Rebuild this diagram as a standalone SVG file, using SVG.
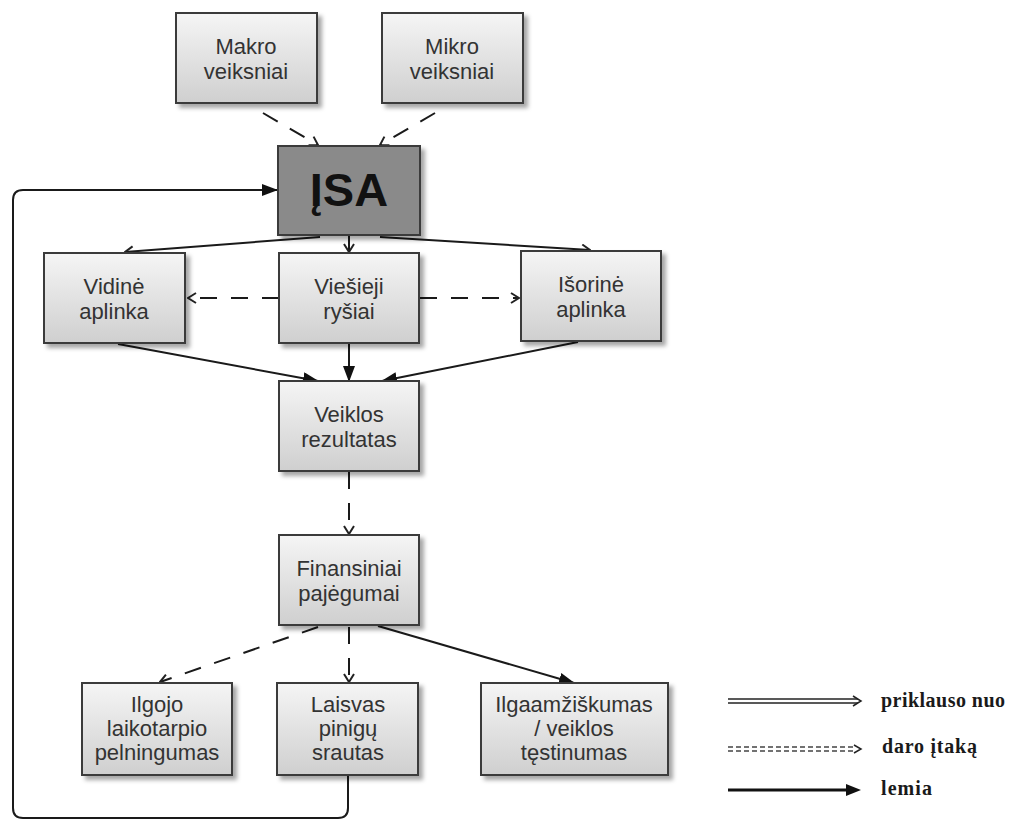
<svg xmlns="http://www.w3.org/2000/svg" width="1012" height="820" viewBox="0 0 1012 820">
<defs>
<linearGradient id="g" x1="0" y1="0" x2="0" y2="1">
<stop offset="0" stop-color="#f5f5f5"/><stop offset="1" stop-color="#cfcfcf"/>
</linearGradient>
<filter id="sh" x="-10%" y="-10%" width="130%" height="130%">
<feDropShadow dx="4" dy="4" stdDeviation="2" flood-color="#000" flood-opacity="0.35"/>
</filter>
<marker id="open" viewBox="0 0 12 12" refX="11" refY="6" markerWidth="12" markerHeight="12" markerUnits="userSpaceOnUse" orient="auto">
<path d="M3,1 L11,6 L3,11" fill="none" stroke="#222" stroke-width="2"/>
</marker>
<marker id="fill" viewBox="0 0 16 12" refX="15" refY="6" markerWidth="16" markerHeight="12" markerUnits="userSpaceOnUse" orient="auto">
<path d="M0,0 L16,6 L0,12 Z" fill="#111"/>
</marker>
</defs>
<style>
.box{fill:url(#g);stroke:#3a3a3a;stroke-width:2;filter:url(#sh)}
.t{font-family:"Liberation Sans",Arial,sans-serif;font-size:22px;fill:#333;text-anchor:middle}
.c{fill:none;stroke:#1a1a1a;stroke-width:2}
.d{stroke-dasharray:17 14}
.lg{font-family:"Liberation Serif","Times New Roman",serif;font-size:20px;font-weight:bold;fill:#1a1a1a}
</style>
<rect width="1012" height="820" fill="#fff"/>
<g id="connectors">
<line class="c d" x1="263" y1="113" x2="318" y2="145" marker-end="url(#open)"/>
<line class="c d" x1="435" y1="113" x2="380" y2="145" marker-end="url(#open)"/>
<line class="c" x1="349" y1="236" x2="349" y2="252" marker-end="url(#open)"/>
<line class="c" x1="320" y1="237" x2="125" y2="252" marker-end="url(#open)"/>
<line class="c" x1="380" y1="237" x2="590" y2="250" marker-end="url(#open)"/>
<line class="c d" x1="279" y1="298" x2="188" y2="298" marker-end="url(#open)"/>
<line class="c d" x1="420" y1="298" x2="519" y2="298" marker-end="url(#open)"/>
<line class="c" x1="118" y1="344" x2="318" y2="381" marker-end="url(#fill)"/>
<line class="c" x1="349" y1="344" x2="349" y2="381" marker-end="url(#fill)"/>
<line class="c" x1="578" y1="342" x2="382" y2="381" marker-end="url(#fill)"/>
<line class="c d" x1="349" y1="472" x2="349" y2="534" marker-end="url(#open)"/>
<line class="c d" x1="318" y1="627" x2="160" y2="682" marker-end="url(#open)"/>
<line class="c d" x1="349" y1="627" x2="349" y2="682" marker-end="url(#open)"/>
<line class="c" x1="378" y1="626" x2="574" y2="683" marker-end="url(#fill)"/>
<path class="c" d="M348,776 L348,808 Q348,818 338,818 L23,818 Q13,818 13,808 L13,200 Q13,190 23,190 L277,190" marker-end="url(#fill)"/>
</g>
<g id="makro"><rect class="box" x="176" y="13" width="141" height="90"/>
<text class="t" x="246" y="54">Makro</text><text class="t" x="246" y="79">veiksniai</text></g>
<g id="mikro"><rect class="box" x="382" y="13" width="141" height="90"/>
<text class="t" x="452" y="54">Mikro</text><text class="t" x="452" y="79">veiksniai</text></g>
<g id="isa"><rect x="278" y="146" width="142" height="89" fill="#8a8a8a" stroke="#3a3a3a" stroke-width="2" filter="url(#sh)"/>
<text x="349" y="206" font-family="Liberation Sans,Arial,sans-serif" font-size="47" font-weight="bold" fill="#111" text-anchor="middle">ĮSA</text></g>
<g id="vidine"><rect class="box" x="44" y="253" width="141" height="90"/>
<text class="t" x="114" y="294">Vidinė</text><text class="t" x="114" y="319">aplinka</text></g>
<g id="viesieji"><rect class="box" x="279" y="253" width="140" height="90"/>
<text class="t" x="349" y="294">Viešieji</text><text class="t" x="349" y="319">ryšiai</text></g>
<g id="isorine"><rect class="box" x="521" y="251" width="140" height="90"/>
<text class="t" x="591" y="292">Išorinė</text><text class="t" x="591" y="317">aplinka</text></g>
<g id="veiklos"><rect class="box" x="279" y="381" width="140" height="90"/>
<text class="t" x="349" y="422">Veiklos</text><text class="t" x="349" y="447">rezultatas</text></g>
<g id="finansiniai"><rect class="box" x="279" y="535" width="140" height="90"/>
<text class="t" x="349" y="576">Finansiniai</text><text class="t" x="349" y="601">pajėgumai</text></g>
<g id="ilgojo"><rect class="box" x="82" y="683" width="150" height="92"/>
<text class="t" x="157" y="712">Ilgojo</text><text class="t" x="157" y="736">laikotarpio</text><text class="t" x="157" y="760">pelningumas</text></g>
<g id="laisvas"><rect class="box" x="277" y="683" width="141" height="92"/>
<text class="t" x="348" y="712">Laisvas</text><text class="t" x="348" y="736">pinigų</text><text class="t" x="348" y="760">srautas</text></g>
<g id="ilgaam"><rect class="box" x="481" y="683" width="187" height="92"/>
<text class="t" x="574" y="712">Ilgaamžiškumas</text><text class="t" x="574" y="736">/ veiklos</text><text class="t" x="574" y="760">tęstinumas</text></g>
<g id="legend">
<line x1="728" y1="699" x2="858" y2="699" stroke="#222" stroke-width="1.5"/>
<line x1="728" y1="703" x2="858" y2="703" stroke="#222" stroke-width="1.5"/>
<path d="M853,696 L861,701 L853,706" fill="none" stroke="#222" stroke-width="1.5"/>
<line x1="728" y1="747" x2="856" y2="747" stroke="#444" stroke-width="1.5" stroke-dasharray="5 3"/>
<line x1="728" y1="751" x2="856" y2="751" stroke="#444" stroke-width="1.5" stroke-dasharray="5 3"/>
<path d="M854,745 L861,749 L854,753" fill="none" stroke="#222" stroke-width="1.5"/>
<line x1="728" y1="790" x2="848" y2="790" stroke="#111" stroke-width="3"/>
<path d="M846,784 L861,790 L846,796 Z" fill="#111"/>
<text class="lg" x="881" y="707" textLength="124" lengthAdjust="spacing">priklauso nuo</text>
<text class="lg" x="882" y="753" textLength="95" lengthAdjust="spacing">daro įtaką</text>
<text class="lg" x="881" y="795" textLength="51" lengthAdjust="spacing">lemia</text>
</g>
</svg>
